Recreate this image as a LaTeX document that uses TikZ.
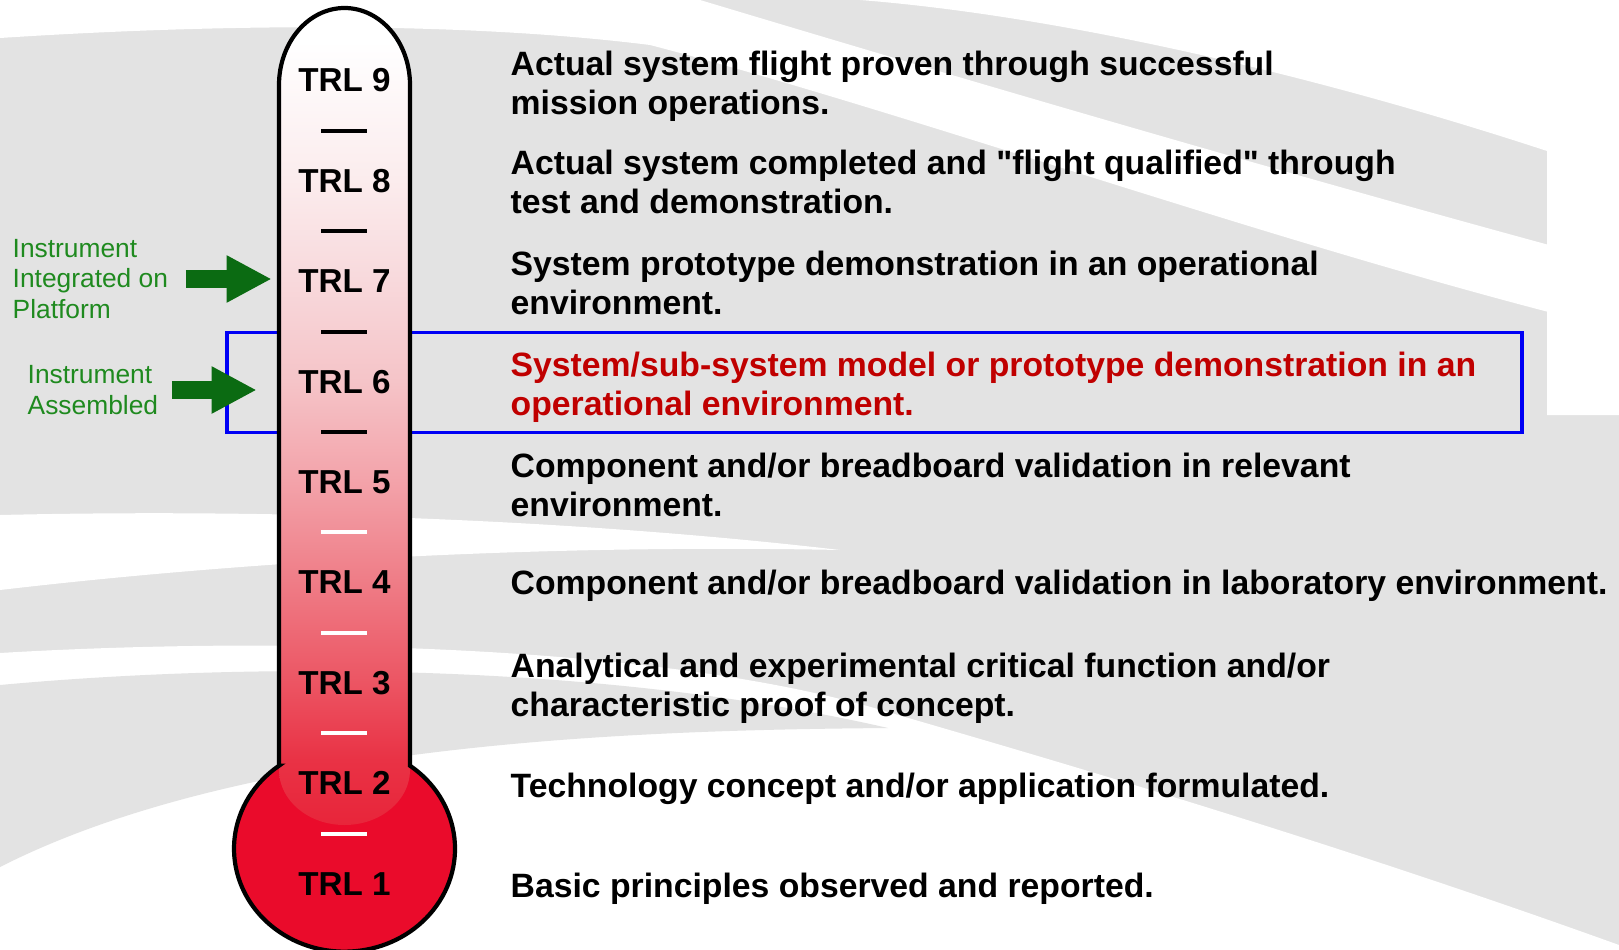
\documentclass[tikz,border=0pt]{standalone}
\usepackage{fontspec}
\setmainfont{Liberation Sans}[Ligatures=TeXOff]
\usepackage{xcolor}
\usetikzlibrary{positioning,arrows.meta}

\definecolor{bggrey}{HTML}{E3E3E3}
\definecolor{bulbred}{HTML}{EA0B2B}
\definecolor{boxblue}{HTML}{0000F5}
\definecolor{hotred}{HTML}{C00000}
\definecolor{instgreen}{HTML}{1F8A1F}
\definecolor{arrowgreen}{HTML}{0B6B12}
\definecolor{tubeB}{HTML}{FBECED}
\definecolor{tubeC}{HTML}{F8D9DC}
\definecolor{tubeD}{HTML}{F5C4C8}
\definecolor{tubeE}{HTML}{F3A3AA}
\definecolor{tubeF}{HTML}{EF7D87}
\definecolor{tubeG}{HTML}{EC5664}
\definecolor{tubeH}{HTML}{E93245}
\definecolor{tubeI}{HTML}{E8253A}

\pgfdeclareverticalshading{tubefade}{100bp}{color(0bp)=(tubeI); color(25bp)=(tubeI);
  color(29bp)=(tubeH); color(33.9bp)=(tubeG); color(40bp)=(tubeF); color(46.1bp)=(tubeE);
  color(52.2bp)=(tubeD); color(58.4bp)=(tubeC); color(64.5bp)=(tubeB); color(73bp)=(white);
  color(100bp)=(white)}

\newcommand{\trloutline}{(279,765.7) -- (279,85)
  arc[start angle=180, end angle=360, x radius=65.5, y radius=77] -- (410,765.7)
  arc[start angle=-53.65, end angle=233.65, x radius=110.5, y radius=103] -- cycle}

\tikzset{
  trllabel/.style={inner sep=0pt, font=\fontsize{9.45}{11}\selectfont\bfseries},
  trldesc/.style={anchor=west, inner sep=0pt, align=left, font=\fontsize{9.6}{11.1}\selectfont\bfseries},
  instlabel/.style={anchor=west, inner sep=0pt, align=left, text=instgreen, font=\fontsize{7.5}{8.8}\selectfont},
  greenarrow/.style={arrowgreen, line width=1.8mm, -{Triangle[length=4.5mm 0 0, width=4.4mm 0 0]}},
  tickmark/.style={line width=0.4mm}
}

\begin{document}
\begin{tikzpicture}[x=0.1mm, y=-0.1mm]
    \useasboundingbox (0,0) rectangle (1619,949);

    % Background swooshes
    \fill[bggrey] (0,0) rectangle (1619,949);
    \fill[white] (0,0) -- (700,0) .. controls (850,45) and (1200,150) .. (1560,248)
        -- (1560,315) .. controls (1250,235) and (900,110) .. (650,45)
        .. controls (450,20) and (200,25) .. (0,38) -- cycle;
    \fill[white] (860,0) -- (1619,0) -- (1619,415) -- (1547,415) -- (1547,151)
        .. controls (1300,70) and (1050,15) .. (860,0) -- cycle;
    \fill[white] (0,515) .. controls (300,508) and (600,522) .. (840,550)
        .. controls (600,545) and (300,555) .. (0,590) -- cycle;
    \fill[white] (0,653) .. controls (250,638) and (650,640) .. (888,712)
        .. controls (1000,745) and (1300,830) .. (1619,945) -- (1619,949) -- (0,949) -- cycle;
    \fill[bggrey] (0,685) .. controls (250,662) and (600,662) .. (888,728)
        .. controls (650,730) and (250,740) .. (0,867) -- cycle;

    % Highlight box
    \draw[boxblue, line width=0.32mm] (227,332.5) rectangle (1522,432.6);

    % Thermometer
    \fill[bulbred] \trloutline;
    \shade[shading=tubefade] (279,770) -- (279,85)
        arc[start angle=180, end angle=360, x radius=65.5, y radius=77] -- (410,770)
        arc[start angle=0, end angle=180, x radius=65.5, y radius=55] -- cycle;
    \draw[line width=0.42mm] \trloutline;

    % Scale marks
    \foreach \k in {1,...,4}
        \draw[tickmark, black] (321,{80.5+(\k-0.5)*100.4}) -- (367,{80.5+(\k-0.5)*100.4});
    \foreach \k in {5,...,8}
        \draw[tickmark, white] (321,{80.5+(\k-0.5)*100.4}) -- (367,{80.5+(\k-0.5)*100.4});

    % Levels
    \foreach \n in {1,...,9}
        \node[trllabel] (t\n) at (344.5,{80.5+(9-\n)*100.4}) {TRL \n};

    % Descriptions
    \node[trldesc] (d9) at (510,86.5) {Actual system flight proven through successful\\mission operations.};
    \node[trldesc] (d8) at (510,182) {Actual system completed and "flight qualified" through\\test and demonstration.};
    \node[trldesc] (d7) at (510,282.5) {System prototype demonstration in an operational\\environment.};
    \node[trldesc, text=hotred] (d6) at (510,387.5) {System/sub-system model or prototype demonstration in an\\operational environment.};
    \node[trldesc] (d5) at (510,485) {Component and/or breadboard validation in relevant\\environment.};
    \node[trldesc] (d4) at (510,585.5) {Component and/or breadboard validation in laboratory environment.};
    \node[trldesc] (d3) at (510,688) {Analytical and experimental critical function and/or\\characteristic proof of concept.};
    \node[trldesc] (d2) at (510,788.5) {Technology concept and/or application formulated.};
    \node[trldesc] (d1) at (510,889) {Basic principles observed and reported.};

    % Milestones
    \node[instlabel] (plat) at (12,279) {Instrument\\Integrated on\\Platform};
    \node[instlabel] (asm) at (27,390) {Instrument\\Assembled};
    \coordinate (s7) at ([xshift=1.7mm]plat.east);
    \coordinate (e7) at ([xshift=-2.6mm]t7.west);
    \coordinate (s6) at ([xshift=1.3mm]asm.east);
    \coordinate (e6) at ([xshift=-4.1mm]t6.west);
    \draw[greenarrow] (s7) -- (e7 |- s7);
    \draw[greenarrow] (s6) -- (e6 |- s6);
\end{tikzpicture}
\end{document}
